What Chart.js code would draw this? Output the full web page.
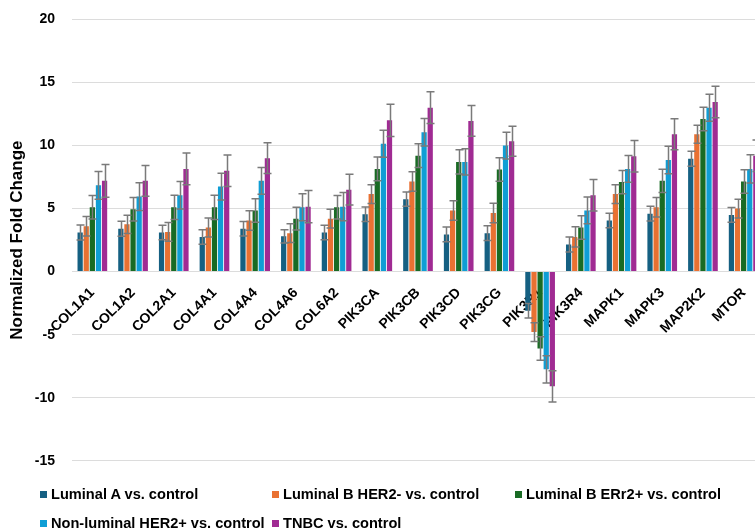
<!DOCTYPE html>
<html>
<head>
<meta charset="utf-8">
<script src="https://cdn.jsdelivr.net/npm/chart.js@4.4.1/dist/chart.umd.min.js"></script>
<style>
  html, body { margin: 0; padding: 0; background: #fff; overflow: hidden; }
  #wrap { position: relative; width: 755px; height: 530px; overflow: hidden; }
  #chart { position: absolute; left: 0; top: 0; }
  .legend { position: absolute; left: 0; top: 0; width: 755px; height: 530px; pointer-events: none;
            font-family: "Liberation Sans", Arial, sans-serif; font-weight: bold; font-size: 14.6px; color: #000; }
  .item { position: absolute; display: flex; align-items: center; white-space: nowrap; transform: translateY(-50%); }
  .swatch { width: 7px; height: 7px; margin-right: 4px; }
</style>
</head>
<body>
<div id="wrap">
  <canvas id="chart" width="780" height="530"></canvas>
  <div class="legend" id="legend"></div>
</div>
<script>
// Genes on the x axis
const categories = ['COL1A1', 'COL1A2', 'COL2A1', 'COL4A1', 'COL4A4', 'COL4A6', 'COL6A2',
  'PIK3CA', 'PIK3CB', 'PIK3CD', 'PIK3CG', 'PIK3R1', 'PIK3R4', 'MAPK1', 'MAPK3', 'MAP2K2', 'MTOR'];

// Subtype comparisons
const seriesNames = ['Luminal A vs. control', 'Luminal B HER2- vs. control', 'Luminal B ERr2+ vs. control',
  'Non-luminal HER2+ vs. control', 'TNBC vs. control'];

// Normalized fold change per gene
const luminalA     = [3.1, 3.4, 3.1, 2.75, 3.4, 2.8, 3.1, 4.55, 5.75, 2.95, 3.05, -3.1, 2.15, 4.05, 4.6, 8.95, 4.5];
const luminalBNeg  = [3.6, 3.75, 3.15, 3.5, 4.05, 3.05, 4.2, 6.15, 7.15, 4.85, 4.65, -4.8, 2.75, 6.15, 5.1, 10.9, 5.0];
const luminalBPos  = [5.1, 4.95, 5.1, 5.1, 4.85, 4.2, 5.1, 8.15, 9.2, 8.7, 8.1, -6.1, 3.5, 7.1, 7.2, 12.1, 7.15];
const nonLuminal   = [6.85, 5.95, 6.05, 6.75, 7.2, 5.1, 5.15, 10.15, 11.05, 8.7, 10.0, -7.75, 4.85, 8.15, 8.85, 13.0, 8.15];
const tnbc         = [7.2, 7.2, 8.15, 8.0, 9.0, 5.15, 6.5, 12.0, 13.0, 11.95, 10.35, -9.1, 6.05, 9.15, 10.9, 13.45, 9.2];

// Error (± half-range) per gene
const luminalAErr    = [0.6, 0.59, 0.58, 0.58, 0.58, 0.53, 0.58, 0.58, 0.56, 0.59, 0.58, 0.58, 0.6, 0.58, 0.59, 0.59, 0.59];
const luminalBNegErr = [0.77, 0.72, 0.75, 0.75, 0.77, 0.74, 0.74, 0.74, 0.78, 0.77, 0.77, 0.74, 0.8, 0.75, 0.77, 0.72, 0.74];
const luminalBPosErr = [0.93, 0.93, 0.96, 0.96, 0.93, 0.9, 0.93, 0.94, 0.95, 0.96, 0.93, 0.93, 0.93, 0.93, 0.93, 0.93, 0.93];
const nonLuminalErr  = [1.1, 1.1, 1.09, 1.06, 1.06, 1.07, 1.12, 1.07, 1.09, 1.04, 1.06, 1.08, 1.06, 1.07, 1.09, 1.07, 1.12];
const tnbcErr        = [1.3, 1.22, 1.25, 1.25, 1.22, 1.28, 1.22, 1.28, 1.26, 1.22, 1.19, 1.24, 1.25, 1.25, 1.23, 1.25, 1.25];

// Y axis range
const yTicks = [-15, -10, -5, 0, 5, 10, 15, 20];

const seriesValues = [luminalA, luminalBNeg, luminalBPos, nonLuminal, tnbc];
const seriesErrors = [luminalAErr, luminalBNegErr, luminalBPosErr, nonLuminalErr, tnbcErr];
const seriesColors = ['#156082', '#E97132', '#196B24', '#0F9ED5', '#A02B93'];

const FONT = '"Liberation Sans", Arial, sans-serif';

// Vertical error bars with caps, drawn on top of the bars
const errorBars = {
  id: 'errorBars',
  afterDatasetsDraw(chart) {
    const { ctx } = chart;
    const y = chart.scales.y;
    ctx.save();
    ctx.strokeStyle = '#7a7a7a';
    ctx.lineWidth = 1.5;
    chart.data.datasets.forEach((ds, di) => {
      const meta = chart.getDatasetMeta(di);
      meta.data.forEach((bar, i) => {
        const v = ds.data[i];
        const e = ds.errors[i];
        const yHi = y.getPixelForValue(v + e);
        const yLo = y.getPixelForValue(v - e);
        const x = Math.round(bar.x) + 0.5;
        const cap = 4;
        ctx.beginPath();
        ctx.moveTo(x, yHi); ctx.lineTo(x, yLo);
        ctx.moveTo(x - cap, yHi); ctx.lineTo(x + cap, yHi);
        ctx.moveTo(x - cap, yLo); ctx.lineTo(x + cap, yLo);
        ctx.stroke();
      });
    });
    ctx.restore();
  }
};

const chart = new Chart(document.getElementById('chart'), {
  type: 'bar',
  data: {
    labels: categories,
    datasets: seriesNames.map((name, k) => ({
      label: name,
      data: seriesValues[k],
      errors: seriesErrors[k],
      backgroundColor: seriesColors[k],
      borderWidth: 0,
      categoryPercentage: 0.75,
      barPercentage: 0.86
    }))
  },
  options: {
    responsive: false,
    animation: false,
    layout: { padding: { top: 19.5, bottom: 69.3, left: 0, right: 16 } },
    plugins: { legend: { display: false }, tooltip: { enabled: false } },
    scales: {
      x: {
        position: { y: 0 },
        offset: true,
        grid: { display: false, drawTicks: false },
        border: { display: false },
        ticks: {
          autoSkip: false, minRotation: 45, maxRotation: 45, padding: 13,
          color: '#000', font: { family: FONT, size: 14, weight: 'bold' }
        },
        afterFit(scale) {
          scale.height = 0;
          scale.paddingTop = 0; scale.paddingBottom = 0;
          scale.paddingLeft = 0; scale.paddingRight = 0;
        }
      },
      y: {
        min: yTicks[0],
        max: yTicks[yTicks.length - 1],
        afterBuildTicks(scale) { scale.ticks = yTicks.map(v => ({ value: v })); },
        grid: { color: '#dcdcdc', lineWidth: 1, drawTicks: false },
        border: { display: false },
        ticks: { padding: 17, color: '#000', font: { family: FONT, size: 14, weight: 'bold' } },
        title: {
          display: true, text: 'Normalized Fold Change', color: '#000',
          font: { family: FONT, size: 17, weight: 'bold' }, padding: { top: 7.5, bottom: 0 }
        },
        afterFit(scale) {
          scale.width = 72;
          scale.paddingTop = 0; scale.paddingBottom = 0;
        }
      }
    }
  },
  plugins: [errorBars]
});

// Legend laid out in a three-column grid under the plot
const legendCols = [40, 272, 515];
const legendRows = [494, 523];
const legendEl = document.getElementById('legend');
seriesNames.forEach((name, k) => {
  const item = document.createElement('div');
  item.className = 'item';
  item.style.left = legendCols[k % 3] + 'px';
  item.style.top = legendRows[Math.floor(k / 3)] + 'px';
  const sw = document.createElement('span');
  sw.className = 'swatch';
  sw.style.background = seriesColors[k];
  const tx = document.createElement('span');
  tx.textContent = name;
  item.appendChild(sw);
  item.appendChild(tx);
  legendEl.appendChild(item);
});
</script>
</body>
</html>
